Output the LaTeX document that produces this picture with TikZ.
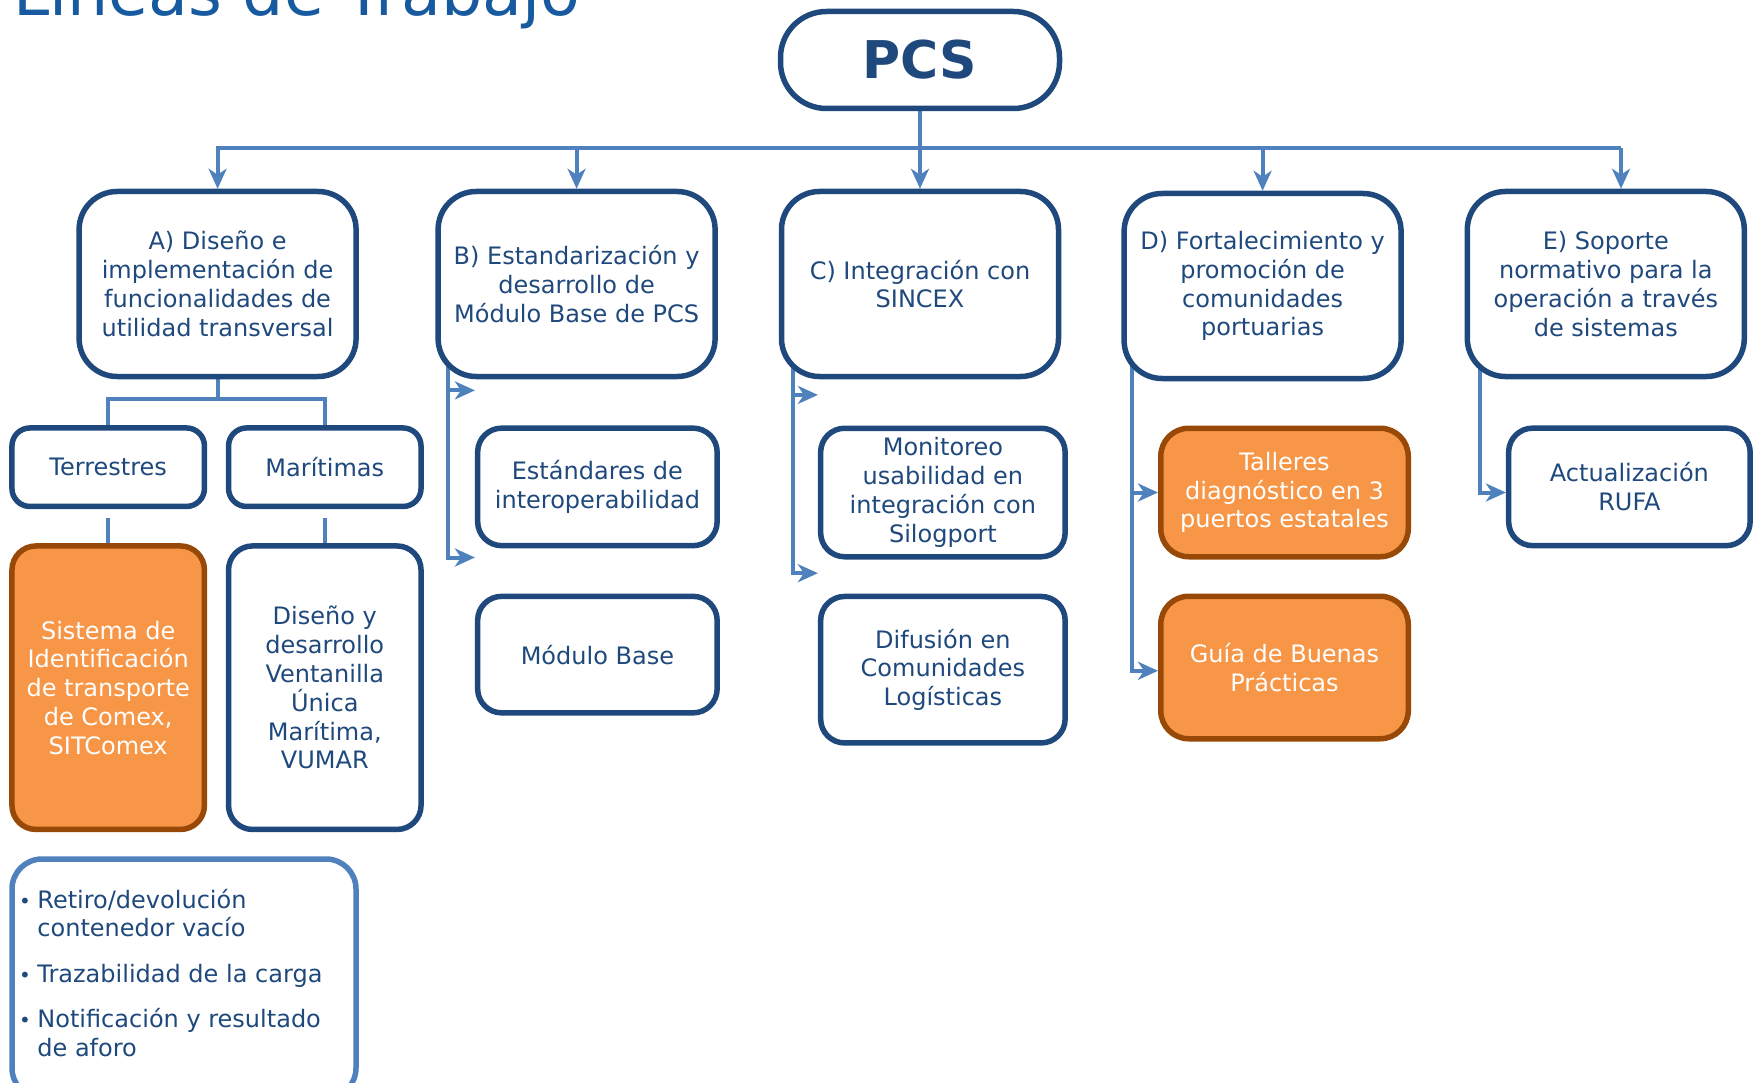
\documentclass[tikz,border=0pt]{standalone}
\usepackage{fontspec}
\setmainfont{DejaVu Sans}
\usetikzlibrary{arrows.meta}

\definecolor{azulosc}{RGB}{31,73,125}
\definecolor{azulcon}{RGB}{79,129,189}
\definecolor{naranja}{RGB}{247,150,70}
\definecolor{naranjaosc}{RGB}{152,72,7}
\definecolor{azultit}{RGB}{23,90,160}

\newcommand{\punto}{{\fontsize{20}{22}\selectfont •}}

\pgfdeclarelayer{fondo}
\pgfsetlayers{fondo,main}

\begin{document}
\begin{tikzpicture}[
			x = 1pt, y = -1pt,
			every node/.style = {font = \fontsize{24}{28.8}\selectfont, text = azulosc},
			caja/.style = {draw = azulosc, line width = 5.5pt, fill = white, inner sep = 0pt, align = center, rounded corners = 24pt},
			cajanar/.style = {caja, draw = naranjaosc, fill = naranja, text = white},
			linea/.style = {azulcon, line width = 4pt},
			flecha/.style = {linea, -{Stealth[length = 20pt, width = 18pt, inset = 6pt]}}
			]

			\useasboundingbox (0,0) rectangle (1759,1083);

			\node[anchor = base west, inner sep = 0pt, text = azultit, font = \fontsize{65}{72}\selectfont] (titulo) at (13,16) {Líneas de Trabajo};

			\node[caja, rounded corners = 46pt, minimum width = 279pt, minimum height = 97pt, font = \fontsize{52}{60}\selectfont\bfseries] (pcs) at (920,60) {PCS};

			% lineas de trabajo
			\def\an{277pt}
			\def\al{185pt}
			\node[caja, rounded corners = 38pt, minimum width = \an, minimum height = \al] (disenio) at (217.6,284) {A) Diseño e\\implementación de\\funcionalidades de\\utilidad transversal};
			\node[caja, rounded corners = 38pt, minimum width = \an, minimum height = \al] (estandar) at (576.6,284) {B) Estandarización y\\desarrollo de\\Módulo Base de PCS};
			\node[caja, rounded corners = 38pt, minimum width = \an, minimum height = \al] (sincex) at (920,284) {C) Integración con\\SINCEX};
			\node[caja, rounded corners = 38pt, minimum width = \an, minimum height = \al] (comunidad) at (1262.6,286) {D) Fortalecimiento y\\promoción de\\comunidades\\portuarias};
			\node[caja, rounded corners = 38pt, minimum width = \an, minimum height = \al] (soporte) at (1605.8,284) {E) Soporte\\normativo para la\\operación a través\\de sistemas};

			% A
			\node[caja, rounded corners = 18pt, minimum width = 192.5pt, minimum height = 78.5pt] (terrestres) at (108.2,467.2) {Terrestres};
			\node[caja, rounded corners = 18pt, minimum width = 192.5pt, minimum height = 78.5pt] (maritimas) at (324.8,467.2) {Marítimas};
			\node[cajanar, minimum width = 192.5pt, minimum height = 283.5pt] (sitcomex) at (108.2,687.7) {Sistema de\\Identificación\\de transporte\\de Comex,\\SITComex};
			\node[caja, minimum width = 192.5pt, minimum height = 283.5pt] (vumar) at (324.8,687.7) {Diseño y\\desarrollo\\Ventanilla\\Única\\Marítima,\\VUMAR};
			\node[caja, draw = azulcon, rounded corners = 30pt, minimum width = 344pt, minimum height = 239pt] (lista) at (184,978.5) {};
			\node[anchor = base west, inner sep = 0pt] (listatexto) at (19,908) {\begin{tabular}[t]{@{}l@{\hspace{6.4pt}}l@{}}
				\punto & Retiro/devolución\\
				 & contenedor vacío\\[16.5pt]
				\punto & Trazabilidad de la carga\\[16.5pt]
				\punto & Notificación y resultado\\
				 & de aforo
				\end{tabular}};

			% B
			\node[caja, minimum width = 239.5pt, minimum height = 117.5pt] (interop) at (597.4,486.9) {Estándares de\\interoperabilidad};
			\node[caja, minimum width = 239.5pt, minimum height = 116.5pt] (modbase) at (597.4,654.6) {Módulo Base};

			% C
			\node[caja, minimum width = 244.5pt, minimum height = 128.5pt] (monitoreo) at (942.9,492.5) {Monitoreo\\usabilidad en\\integración con\\Silogport};
			\node[caja, minimum width = 244.5pt, minimum height = 146.5pt] (difusion) at (942.9,669.7) {Difusión en\\Comunidades\\Logísticas};

			% D
			\node[cajanar, rounded corners = 28pt, minimum width = 247.5pt, minimum height = 128.5pt] (talleres) at (1284.5,492.5) {Talleres\\diagnóstico en 3\\puertos estatales};
			\node[cajanar, rounded corners = 28pt, minimum width = 247.5pt, minimum height = 142.5pt] (guia) at (1284.5,667.5) {Guía de Buenas\\Prácticas};

			% E
			\node[caja, minimum width = 241.5pt, minimum height = 117.5pt] (rufa) at (1629.4,486.9) {Actualización\\RUFA};

			\coordinate (busizq) at (217.6,148);
			\coordinate (busder) at (1621,148);
			\coordinate (ramaA) at (217.6,399);

			\begin{pgfonlayer}{fondo}
				\draw[flecha] (busder) -- (busizq) -- (disenio.north);
				\draw[flecha] (pcs.south) -- (sincex.north);
				\draw[flecha] (estandar.north |- busizq) -- (estandar.north);
				\draw[flecha] (comunidad.north |- busizq) -- (comunidad.north);
				\draw[flecha] (busizq -| busder) -- (soporte.north -| busder);

				\draw[linea] (disenio.south) -- (ramaA);
				\draw[linea] (terrestres.north) |- (ramaA) -| (maritimas.north);
				\draw[linea] ([yshift = -9pt]terrestres.south) -- (sitcomex.north);
				\draw[linea] ([yshift = -9pt]maritimas.south) -- (vumar.north);

				\draw[flecha] ([xshift = 13pt, yshift = 20pt]estandar.south west) |- (interop.west |- 0,557.5);
				\draw[flecha] (449,390.4) -- (interop.west |- 0,390.4);

				\draw[flecha] ([xshift = 14pt, yshift = 20pt]sincex.south west) |- (monitoreo.west |- 0,573.2);
				\draw[flecha] (792,394.9) -- (monitoreo.west |- 0,394.9);

				\draw[flecha] ([xshift = 11pt, yshift = 20pt]comunidad.south west) |- (guia.west |- 0,670.8);
				\draw[flecha] (1131.9,492.5) -- (talleres.west |- 0,492.5);

				\draw[flecha] ([xshift = 15.6pt, yshift = 20pt]soporte.south west) |- (rufa.west |- 0,492.5);
			\end{pgfonlayer}

		\end{tikzpicture}
\end{document}
